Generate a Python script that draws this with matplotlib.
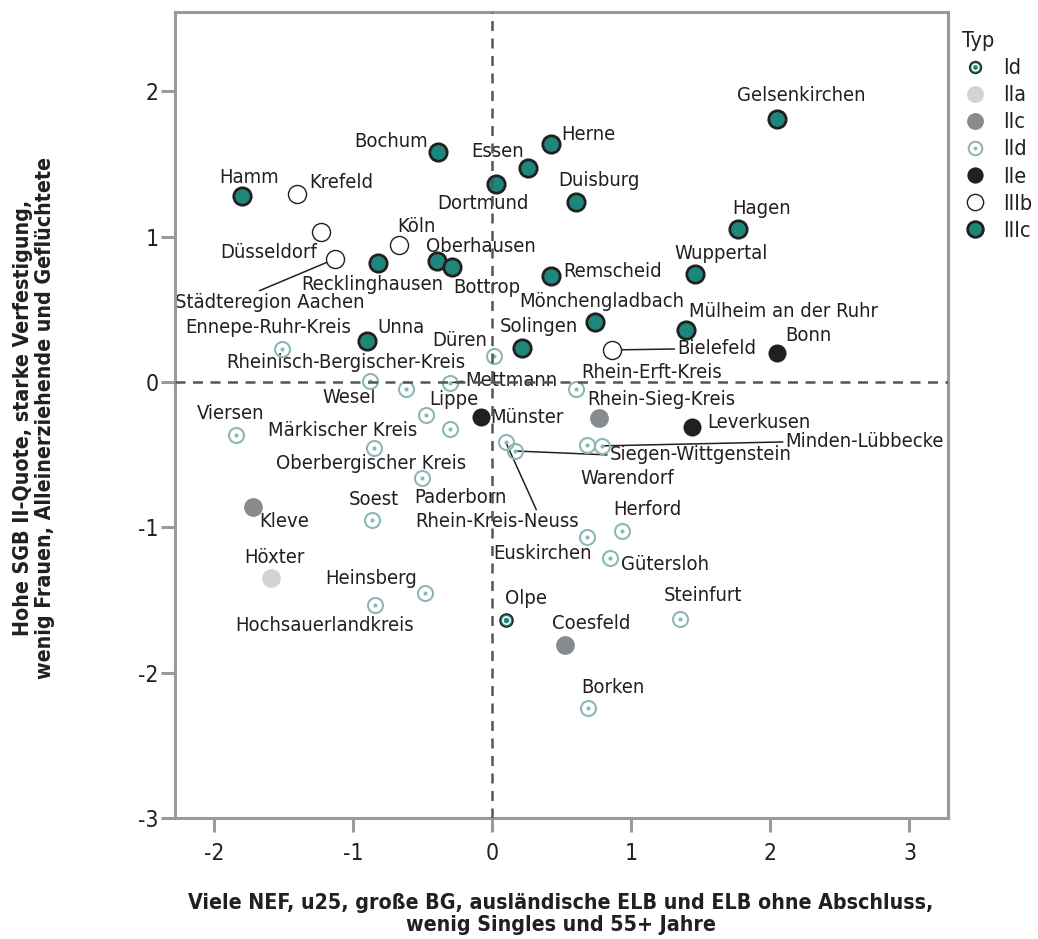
import matplotlib
matplotlib.use("Agg")
import matplotlib.pyplot as plt
from matplotlib.lines import Line2D
from matplotlib import font_manager

# Tahoma-like look: DejaVu Sans condensed if it is installed
fp = font_manager.FontProperties(family="DejaVu Sans", stretch="condensed")
STRETCH = "condensed" if "Condensed" in font_manager.findfont(fp) else "normal"
plt.rcParams["font.family"] = "DejaVu Sans"
plt.rcParams["font.stretch"] = STRETCH
plt.rcParams["axes.unicode_minus"] = False

# ── data ─────────────────────────────────────────────────
names_IIIc = ["Gelsenkirchen", "Herne", "Essen", "Dortmund", "Bochum", "Duisburg",
              "Hamm", "Hagen", "Wuppertal", "Remscheid", "Oberhausen", "Bottrop",
              "Recklinghausen", "Mönchengladbach", "Mülheim an der Ruhr", "Solingen", "Unna"]
x_IIIc = [2.05, 0.42, 0.26, 0.025, -0.39, 0.60, -1.795, 1.77, 1.46, 0.425, -0.40, -0.29,
          -0.82, 0.74, 1.39, 0.217, -0.90]
y_IIIc = [1.81, 1.635, 1.47, 1.36, 1.58, 1.235, 1.277, 1.05, 0.74, 0.73, 0.83, 0.79,
          0.815, 0.41, 0.36, 0.236, 0.284]

names_IIIb = ["Krefeld", "Düsseldorf", "Städteregion Aachen", "Köln", "Bielefeld"]
x_IIIb = [-1.40, -1.23, -1.13, -0.67, 0.86]
y_IIIb = [1.29, 1.03, 0.846, 0.94, 0.22]

names_IIe = ["Bonn", "Münster", "Leverkusen"]
x_IIe = [2.05, -0.078, 1.44]
y_IIe = [0.20, -0.24, -0.31]

names_IIc = ["Rhein-Sieg-Kreis", "Kleve", "Coesfeld"]
x_IIc = [0.766, -1.72, 0.527]
y_IIc = [-0.245, -0.86, -1.81]

names_IIa = ["Höxter"]
x_IIa = [-1.59]
y_IIa = [-1.35]

names_Id = ["Olpe"]
x_Id = [0.10]
y_Id = [-1.635]

names_IId = ["Ennepe-Ruhr-Kreis", "Düren", "Rheinisch-Bergischer-Kreis", "Wesel", "Mettmann",
             "Rhein-Erft-Kreis", "Viersen", "Lippe", "Paderborn", "Märkischer Kreis",
             "Oberbergischer Kreis", "Soest", "Rhein-Kreis-Neuss", "Siegen-Wittgenstein",
             "Warendorf", "Minden-Lübbecke", "Euskirchen", "Herford", "Gütersloh",
             "Steinfurt", "Heinsberg", "Hochsauerlandkreis", "Borken"]
x_IId = [-1.514, 0.011, -0.88, -0.62, -0.306, 0.60, -1.84, -0.478, -0.306, -0.853,
         -0.507, -0.867, 0.097, 0.162, 0.68, 0.788, 0.68, 0.93, 0.845, 1.35, -0.486,
         -0.845, 0.687]
y_IId = [0.227, 0.179, 0.007, -0.048, -0.007, -0.048, -0.365, -0.227, -0.323, -0.454,
         -0.66, -0.949, -0.413, -0.475, -0.433, -0.44, -1.066, -1.025, -1.21, -1.63,
         -1.45, -1.534, -2.24]

types = ["Id", "IIa", "IIc", "IId", "IIe", "IIIb", "IIIc"]
groups = {
    "Id": (names_Id, x_Id, y_Id),
    "IIa": (names_IIa, x_IIa, y_IIa),
    "IIc": (names_IIc, x_IIc, y_IIc),
    "IId": (names_IId, x_IId, y_IId),
    "IIe": (names_IIe, x_IIe, y_IIe),
    "IIIb": (names_IIIb, x_IIIb, y_IIIb),
    "IIIc": (names_IIIc, x_IIIc, y_IIIc),
}

# ── styles ───────────────────────────────────────────────
TEAL = "#1d877c"
LTEAL = "#8ab9b5"
DARK = "#231f20"
GRID = "#9a9a9a"

marker_layers = {
    "Id":   [dict(ms=9.5, mfc=TEAL, mec=DARK, mew=1.0),
             dict(ms=5.2, mfc=TEAL, mec="white", mew=1.2)],
    "IIa":  [dict(ms=13.5, mfc="#d2d3d5", mec="none")],
    "IIc":  [dict(ms=13.5, mfc="#878b8e", mec="none")],
    "IId":  [dict(ms=10.8, mfc="none", mec=LTEAL, mew=1.5),
             dict(ms=3.0, mfc=LTEAL, mec="none")],
    "IIe":  [dict(ms=13.0, mfc=DARK, mec="none")],
    "IIIb": [dict(ms=13.0, mfc="white", mec=DARK, mew=1.0)],
    "IIIc": [dict(ms=12.5, mfc=TEAL, mec=DARK, mew=2.0)],
}

# label offsets (pixels, y up) relative to the marker
label_off = {
    "Gelsenkirchen": (24, 23), "Herne": (38, 10), "Essen": (-31, 17), "Dortmund": (-13, -19),
    "Bochum": (-47, 11), "Duisburg": (23, 22), "Hamm": (7, 19), "Hagen": (23, 21),
    "Wuppertal": (26, 21), "Remscheid": (61, 4), "Oberhausen": (44, 15), "Bottrop": (35, -20),
    "Recklinghausen": (-6, -21), "Mönchengladbach": (7, 21), "Mülheim an der Ruhr": (98, 18),
    "Solingen": (17, 21), "Unna": (34, 13), "Krefeld": (44, 12), "Düsseldorf": (-52, -20),
    "Städteregion Aachen": (-65, -44), "Köln": (17, 19), "Bielefeld": (105, 1),
    "Bonn": (31, 17), "Münster": (46, -1), "Leverkusen": (66, 4), "Rhein-Sieg-Kreis": (63, 18),
    "Kleve": (31, -15), "Coesfeld": (26, 22), "Höxter": (3, 21), "Olpe": (20, 21),
    "Ennepe-Ruhr-Kreis": (-13, 21), "Düren": (-34, 15), "Rheinisch-Bergischer-Kreis": (-24, 18),
    "Wesel": (-57, -9), "Mettmann": (62, 2), "Rhein-Erft-Kreis": (76, 16), "Viersen": (-6, 21),
    "Lippe": (28, 15), "Oberbergischer Kreis": (-51, 14), "Märkischer Kreis": (-31, 17),
    "Paderborn": (11, -69), "Soest": (2, 20), "Rhein-Kreis-Neuss": (-9, -80),
    "Siegen-Wittgenstein": (186, -4), "Warendorf": (41, -34), "Minden-Lübbecke": (263, 4),
    "Euskirchen": (-44, -17), "Herford": (26, 21), "Gütersloh": (55, -7), "Steinfurt": (23, 23),
    "Heinsberg": (-53, 14), "Hochsauerlandkreis": (-50, -21), "Borken": (25, 20),
}
# labels with a leader line: (relpos on text, shrink at marker in pt)
leaders = {
    "Bielefeld": ((0, 0.5), 7), "Mettmann": ((0, 0.5), 0), "Minden-Lübbecke": ((0, 0.5), 0),
    "Siegen-Wittgenstein": ((0, 0.5), 0), "Rhein-Kreis-Neuss": ((0.75, 1.0), 0),
    "Städteregion Aachen": ((0.41, 1.0), 0),
}

# ── plot ─────────────────────────────────────────────────
fig = plt.figure(figsize=(10.38, 9.39), dpi=100)
ax = fig.add_axes([175 / 1038, 1 - 818 / 939, (948 - 175) / 1038, (818 - 12) / 939])

for t in types:
    names, xs, ys = groups[t]
    for layer in marker_layers[t]:
        ax.plot(xs, ys, ls="none", marker="o", zorder=3, **layer)
    for n, x, y in zip(names, xs, ys):
        dx, dy = label_off[n]
        kw = {}
        if n in leaders:
            rp, shr = leaders[n]
            kw["arrowprops"] = dict(arrowstyle="-", color=DARK, lw=1.1,
                                    shrinkA=0, shrinkB=shr, relpos=rp)
        ax.annotate(n, (x, y), xytext=(dx, dy), textcoords="offset pixels",
                    ha="center", va="center", fontsize=14.5, color=DARK, zorder=2, **kw)

ax.axvline(0, color="#555555", lw=1.8, ls=(0, (4, 3)), zorder=10)
ax.axhline(0, color="#555555", lw=1.8, ls=(0, (4, 3)), zorder=10)

ax.set_xlim(-2.28, 3.277)
ax.set_ylim(-3, 2.545)
ax.set_xticks([-2, -1, 0, 1, 2, 3])
ax.set_yticks([-3, -2, -1, 0, 1, 2])
for s in ax.spines.values():
    s.set_color(GRID)
    s.set_linewidth(2.2)
ax.tick_params(direction="out", length=10, width=2.2, color=GRID,
               labelsize=16.5, labelcolor=DARK)
ax.tick_params(axis="x", pad=7)
ax.tick_params(axis="y", pad=2)

fig.text(34 / 1038, 1 - 418 / 939,
         "Hohe SGB II-Quote, starke Verfestigung,\nwenig Frauen, Alleinerziehende und Geflüchtete",
         rotation=90, ha="center", va="center", ma="center", linespacing=1.1,
         fontsize=15.3, fontweight="bold", color=DARK)
fig.text(561 / 1038, 1 - 914 / 939,
         "Viele NEF, u25, große BG, ausländische ELB und ELB ohne Abschluss,\nwenig Singles und 55+ Jahre",
         ha="center", va="center", ma="center", linespacing=1.12,
         fontsize=15.3, fontweight="bold", color=DARK)

# legend
handles = []
for t in types:
    parts = []
    for layer in marker_layers[t]:
        lay = dict(layer)
        lay["ms"] = lay["ms"] * 0.9
        parts.append(Line2D([], [], ls="none", marker="o", **lay))
    handles.append(tuple(parts))
leg = fig.legend(handles, types, loc="upper left", bbox_to_anchor=(947 / 1038, 1 - 16 / 939),
                 frameon=False, title="Typ", alignment="left", fontsize=15.5,
                 title_fontsize=15.5, handletextpad=0.7, labelspacing=0.33,
                 handlelength=1.2, borderpad=0.2)
for txt in leg.get_texts():
    txt.set_color(DARK)
leg.get_title().set_color(DARK)

fig.savefig("out.png", dpi=100)
